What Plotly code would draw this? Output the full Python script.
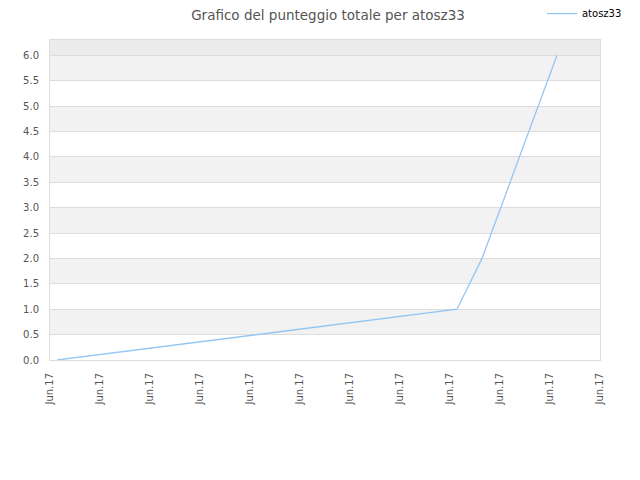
import plotly.graph_objects as go

# Dati
player = "atosz33"
x_pos = [0.14, 8.14, 8.64, 10.14]
scores = [0, 1, 2, 6]
tick_pos = list(range(12))
tick_labels = ["Jun.17"] * 12

line_color = "#94c6f2"
font = "DejaVu Sans"

fig = go.Figure()
fig.add_trace(go.Scatter(
    x=x_pos, y=scores, mode="lines", name=player,
    line=dict(color=line_color, width=1.3)
))

# bande alternate di sfondo
shapes = []
y_top = 6.3
k = 0
y0 = 0.0
while y0 < y_top:
    y1 = min(y0 + 0.5, y_top)
    if y0 >= 6.0:
        col = "#ececec"
    elif k % 2 == 1:
        col = "#f2f2f2"
    else:
        col = "#ffffff"
    shapes.append(dict(type="rect", xref="paper", yref="y", x0=0, x1=1, y0=y0, y1=y1,
                       fillcolor=col, line_width=0, layer="below"))
    y0 += 0.5
    k += 1

fig.update_layout(
    width=640, height=480,
    title=dict(text="Grafico del punteggio totale per " + player, x=0.5, xanchor="center",
               y=1 - 3 / 480, yanchor="top", pad=dict(t=0),
               font=dict(family=font, size=13.5, color="#555555")),
    font=dict(family=font, size=10, color="#555555"),
    paper_bgcolor="white", plot_bgcolor="white",
    margin=dict(l=42, r=48, t=32, b=128, autoexpand=False),
    shapes=shapes,
    showlegend=True,
    legend=dict(x=0.8945, y=1.128, xref="paper", yref="paper", xanchor="left",
                yanchor="top", font=dict(family=font, size=10, color="#000000"),
                bgcolor="rgba(0,0,0,0)"),
    xaxis=dict(range=[0, 11], tickvals=tick_pos, ticktext=tick_labels, tickangle=-90,
               showgrid=False, zeroline=False, showline=True, linecolor="#dddddd", mirror=True,
               ticks="", ticklabelstandoff=8, fixedrange=True),
    yaxis=dict(range=[0, 6.3], dtick=0.5, tickformat=".1f", showgrid=True, gridcolor="#dddddd",
               zeroline=False, showline=True, linecolor="#dddddd", mirror=True, ticks="",
               ticklabelstandoff=8),
)

fig.write_html("out.html")
